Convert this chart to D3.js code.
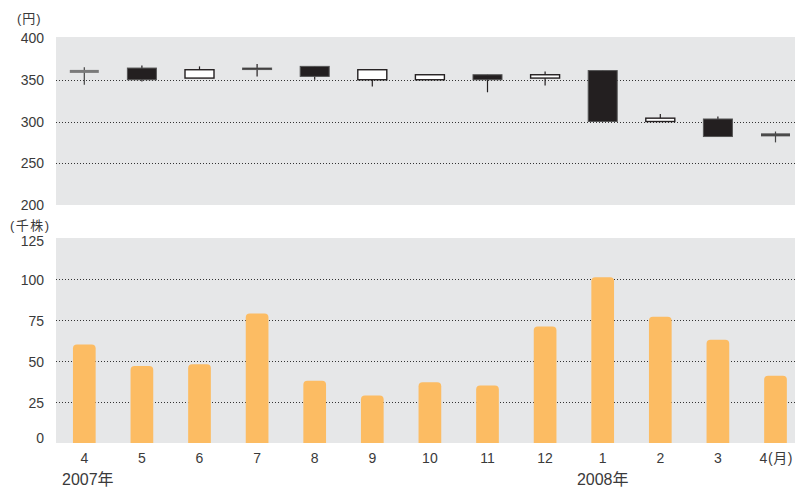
<!DOCTYPE html>
<html>
<head>
<meta charset="utf-8">
<script src="https://cdn.jsdelivr.net/npm/d3@7"></script>
<style>
  body { margin: 0; background: #fff; }
  text { font-family: "Liberation Sans", Arial, "Noto Sans CJK JP", sans-serif; fill: #3a3a3a; }
</style>
</head>
<body>
<div id="chart"></div>
<script>
// months (Apr 2007 - Apr 2008)
var months = ["4", "5", "6", "7", "8", "9", "10", "11", "12", "1", "2", "3", "4"];

// stock price (yen)
var openP  = [360, 364, 352, 364, 366, 350, 350, 356, 352, 361, 300, 303, 284];
var highP  = [365, 367, 366, 369, 366, 362, 356, 356, 360, 361, 309, 306, 288];
var lowP   = [344, 348, 352, 354, 350, 342, 350, 335, 343, 299, 300, 282, 275];
var closeP = [360, 350, 362, 363, 354, 362, 356, 350, 356, 300, 304, 282, 284];

// volume (thousand shares)
var volume = [60, 47, 48, 79, 38, 29, 37, 35, 71, 101, 77, 63, 41];

var priceTicks = [400, 350, 300, 250, 200];
var volTicks = [125, 100, 75, 50, 25, 0];

var width = 795, height = 487;
var colorPanel = "#e6e7e8", colorBar = "#fcbc63", colorDark = "#231f20";

var svg = d3.select("#chart").append("svg")
    .attr("width", width)
    .attr("height", height);

var x = d3.scaleBand()
    .domain(d3.range(months.length))
    .range([55.5, 804.3])
    .paddingInner(0.6)
    .paddingOuter(0.3);

var yPrice = d3.scaleLinear().domain([200, 400]).range([205, 38]);
var yVol = d3.scaleLinear().domain([0, 125]).range([443, 238]);

// panels
svg.append("rect").attr("x", 56).attr("y", 37).attr("width", 760).attr("height", 168).attr("fill", colorPanel);
svg.append("rect").attr("x", 56).attr("y", 238).attr("width", 760).attr("height", 205).attr("fill", colorPanel);

// grid lines
function grid(scale, vals) {
    svg.append("g").selectAll("line")
        .data(vals)
        .enter()
        .append("line")
        .attr("x1", 56)
        .attr("x2", width)
        .attr("y1", d => Math.round(scale(d)) + 0.5)
        .attr("y2", d => Math.round(scale(d)) + 0.5)
        .attr("stroke", "#333")
        .attr("stroke-width", 1)
        .attr("stroke-dasharray", "1,2");
}
grid(yPrice, [350, 300, 250]);
grid(yVol, [100, 75, 50, 25]);

// y labels
svg.append("g").selectAll("text")
    .data(priceTicks)
    .enter()
    .append("text")
    .attr("x", 44)
    .attr("y", d => yPrice(d))
    .attr("dy", "0.36em")
    .attr("text-anchor", "end")
    .style("font-size", "14px")
    .text(d => d);

svg.append("g").selectAll("text")
    .data(volTicks)
    .enter()
    .append("text")
    .attr("x", 44)
    .attr("y", d => yVol(d) + (d === 125 ? 3 : d === 0 ? -5 : 1))
    .attr("dy", "0.36em")
    .attr("text-anchor", "end")
    .style("font-size", "14px")
    .text(d => d);

svg.append("text").attr("x", 17).attr("y", 23).style("font-size", "13px")
    .style("letter-spacing", "1px").text("(円)");
svg.append("text").attr("x", 10).attr("y", 230).style("font-size", "13px")
    .style("letter-spacing", "1.5px").text("(千株)");

// candlesticks
var cw = 29;
var candles = svg.append("g");
months.forEach(function(m, i) {
    var cx = x(i) + x.bandwidth() / 2;
    var o = openP[i], c = closeP[i];
    var doji = o === c;
    candles.append("line")
        .attr("x1", cx).attr("x2", cx)
        .attr("y1", yPrice(highP[i]))
        .attr("y2", yPrice(lowP[i]))
        .attr("stroke", doji ? "#444" : colorDark)
        .attr("stroke-width", 1.2);
    if (doji) {
        candles.append("line")
            .attr("x1", cx - cw / 2).attr("x2", cx + cw / 2)
            .attr("y1", yPrice(o)).attr("y2", yPrice(o))
            .attr("stroke", i === 0 ? "#7a7a7a" : "#4a4a4a")
            .attr("stroke-width", 3);
        return;
    }
    var top = yPrice(Math.max(o, c)), bot = yPrice(Math.min(o, c));
    candles.append("rect")
        .attr("x", cx - cw / 2)
        .attr("y", top)
        .attr("width", cw)
        .attr("height", Math.max(bot - top, 1.5))
        .attr("fill", c > o ? "#fff" : colorDark)
        .attr("stroke", c > o ? colorDark : "#555")
        .attr("stroke-width", c > o ? 1.4 : 1);
});

// volume bars with rounded tops
var bw = 22.7, r = 4;
svg.append("g").selectAll("path")
    .data(volume)
    .enter()
    .append("path")
    .attr("d", function(d, i) {
        var cx = x(i) + x.bandwidth() / 2;
        var x0 = cx - bw / 2, x1 = cx + bw / 2;
        var y0 = yVol(0), y1 = yVol(d);
        return "M" + x0 + "," + y0 +
               "V" + (y1 + r) +
               "Q" + x0 + "," + y1 + " " + (x0 + r) + "," + y1 +
               "H" + (x1 - r) +
               "Q" + x1 + "," + y1 + " " + x1 + "," + (y1 + r) +
               "V" + y0 + "Z";
    })
    .attr("fill", colorBar);

// x labels
var last = months.length - 1;
svg.append("g").selectAll("text")
    .data(months)
    .enter()
    .append("text")
    .attr("x", (d, i) => x(i) + x.bandwidth() / 2 + (i === last ? -16 : 0))
    .attr("y", 463)
    .attr("text-anchor", (d, i) => i === last ? "start" : "middle")
    .style("font-size", "14px")
    .style("letter-spacing", (d, i) => i === last ? "0.6px" : null)
    .text((d, i) => i === last ? d + "(月)" : d);

svg.append("text")
    .attr("x", 62)
    .attr("y", 485)
    .style("font-size", "16px")
    .text("2007年");

svg.append("text")
    .attr("x", x(9) + x.bandwidth() / 2)
    .attr("y", 485)
    .attr("text-anchor", "middle")
    .style("font-size", "16px")
    .text("2008年");
</script>
</body>
</html>
